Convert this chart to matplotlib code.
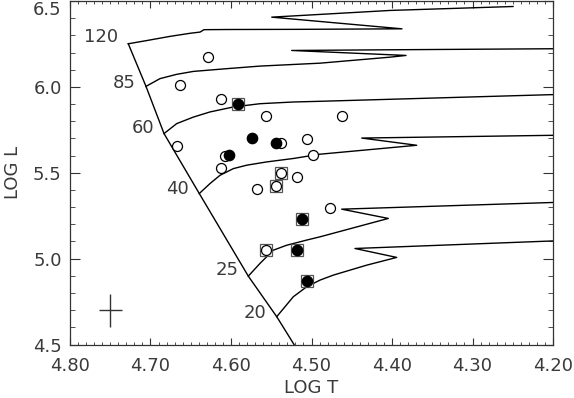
import matplotlib
matplotlib.use("Agg")
import matplotlib.pyplot as plt
from matplotlib.ticker import MultipleLocator, FormatStrFormatter

# zero-age main sequence (through the starts of the tracks)
zams_t = [4.7276, 4.7056, 4.6832, 4.6394, 4.5785, 4.5432, 4.5217]
zams_l = [6.251, 6.003, 5.728, 5.379, 4.898, 4.662, 4.500]

# evolutionary tracks
t120 = [4.7276, 4.7043, 4.6758, 4.6509, 4.6385, 4.6335, 4.605, 4.514, 4.3876, 4.5494, 4.4025, 4.2497]
l120 = [6.251, 6.270, 6.294, 6.312, 6.319, 6.333, 6.334, 6.335, 6.338, 6.406, 6.445, 6.468]
t85 = [4.7056, 4.6882, 4.6675, 4.6468, 4.6053, 4.564, 4.4894, 4.4025, 4.3826, 4.5246, 4.4025, 4.20]
l85 = [6.003, 6.048, 6.073, 6.090, 6.106, 6.121, 6.138, 6.173, 6.183, 6.212, 6.216, 6.222]
t60 = [4.6832, 4.6675, 4.6468, 4.6261, 4.5971, 4.564, 4.5226, 4.4894, 4.20]
l60 = [5.728, 5.786, 5.824, 5.854, 5.883, 5.902, 5.912, 5.916, 5.955]
t40 = [4.6394, 4.6261, 4.6137, 4.5971, 4.5805, 4.5557, 4.5226, 4.4894, 4.3693, 4.4376, 4.20]
l40 = [5.379, 5.437, 5.485, 5.524, 5.544, 5.563, 5.583, 5.608, 5.660, 5.702, 5.718]
t25 = [4.5785, 4.564, 4.5475, 4.5308, 4.506, 4.4894, 4.4046, 4.4625, 4.20]
l25 = [4.898, 4.972, 5.049, 5.078, 5.108, 5.127, 5.234, 5.288, 5.327]
t20 = [4.5432, 4.5226, 4.506, 4.4894, 4.4729, 4.4314, 4.3942, 4.446, 4.20]
l20 = [4.662, 4.778, 4.836, 4.875, 4.904, 4.962, 5.007, 5.059, 5.103]

masses = ["120", "85", "60", "40", "25", "20"]
mass_t = [4.7404, 4.718, 4.6953, 4.653, 4.591, 4.5557]
mass_l = [6.290, 6.020, 5.760, 5.408, 4.933, 4.681]

# stars
open_t = [4.628, 4.663, 4.613, 4.556, 4.4625, 4.6675, 4.538, 4.505, 4.6075, 4.4985, 4.613, 4.518, 4.568, 4.477]
open_l = [6.173, 6.009, 5.927, 5.830, 5.828, 5.656, 5.674, 5.695, 5.599, 5.602, 5.528, 5.474, 5.408, 5.295]
open_sq_t = [4.538, 4.544, 4.5565]
open_sq_l = [5.500, 5.423, 5.053]
filled_t = [4.574, 4.544, 4.602]
filled_l = [5.702, 5.674, 5.601]
filled_sq_t = [4.591, 4.512, 4.518, 4.505]
filled_sq_l = [5.898, 5.228, 5.053, 4.871]

# typical error
err_t, err_l = 4.750, 4.698
err_dt, err_dl = 0.0145, 0.097

xticks = [4.80, 4.70, 4.60, 4.50, 4.40, 4.30, 4.20]
yticks = [4.5, 5.0, 5.5, 6.0, 6.5]

plt.rcParams['font.family'] = ['DejaVu Sans']
plt.rcParams['font.size'] = 13
txt = '#3a3a3a'

fig = plt.figure(figsize=(5.74, 3.98), dpi=100)
ax = fig.add_axes([70 / 574, 1 - 344.5 / 398, 483 / 574, 343.5 / 398])

ax.plot(zams_t, zams_l, color='black', lw=1.0)
for t, l in [(t120, l120), (t85, l85), (t60, l60), (t40, l40), (t25, l25), (t20, l20)]:
    ax.plot(t, l, color='black', lw=1.0)

for m, t, l in zip(masses, mass_t, mass_l):
    ax.text(t, l, m, ha='right', va='center', color=txt, fontsize=13)

ax.plot(open_sq_t, open_sq_l, 's', ms=8.6, mfc='white', mec='#555555', mew=0.9, ls='none')
ax.plot(filled_sq_t, filled_sq_l, 's', ms=8.6, mfc='white', mec='#555555', mew=0.9, ls='none')
ax.plot(open_t, open_l, 'o', ms=7.2, mfc='white', mec='black', mew=0.9, ls='none')
ax.plot(open_sq_t, open_sq_l, 'o', ms=7.2, mfc='white', mec='black', mew=0.9, ls='none')
ax.plot(filled_t, filled_l, 'o', ms=7.4, mfc='black', mec='black', ls='none')
ax.plot(filled_sq_t, filled_sq_l, 'o', ms=7.4, mfc='black', mec='black', ls='none')

ax.errorbar([err_t], [err_l], xerr=err_dt, yerr=err_dl, fmt='none', ecolor='#333333', elinewidth=1.0, capsize=0)

ax.set_xlim(4.80, 4.20)
ax.set_ylim(4.5, 6.5)
ax.set_xticks(xticks)
ax.set_yticks(yticks)
ax.xaxis.set_minor_locator(MultipleLocator(0.01))
ax.yaxis.set_minor_locator(MultipleLocator(0.1))
ax.xaxis.set_major_formatter(FormatStrFormatter('%.2f'))
ax.yaxis.set_major_formatter(FormatStrFormatter('%.1f'))
ax.tick_params(axis='x', which='major', direction='in', top=True, length=5, width=0.8, colors='#333333', labelcolor=txt, labelsize=13, pad=9)
ax.tick_params(axis='x', which='minor', direction='in', top=True, length=2.5, width=0.6, colors='#333333')
ax.tick_params(axis='y', which='major', direction='in', right=True, length=7, width=0.8, colors='#333333', labelcolor=txt, labelsize=13, pad=6)
ax.tick_params(axis='y', which='minor', direction='in', right=True, length=3.5, width=0.6, colors='#333333')
for s in ax.spines.values():
    s.set_color('#333333')
    s.set_linewidth(0.9)

ax.set_xlabel('LOG T', color=txt, fontsize=13, labelpad=3)
ax.set_ylabel('LOG L', color=txt, fontsize=13, labelpad=8)

# keep the top label inside the picture, as in the original
ax.yaxis.get_major_ticks()[-1].label1.set_va('top')

fig.savefig('out.png', dpi=100)
